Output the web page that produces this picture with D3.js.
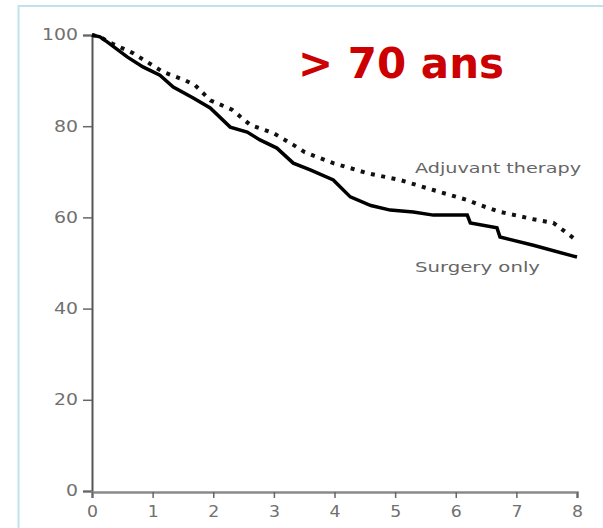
<!DOCTYPE html>
<html>
<head>
<meta charset="utf-8">
<script src="https://cdn.jsdelivr.net/npm/d3@7"></script>
<style>
  html, body { margin: 0; padding: 0; background: #fff; }
  svg { display: block; }
</style>
</head>
<body>
<svg id="chart" width="603" height="528"></svg>
<script>
// ---- data ----
const title = "> 70 ans";
const xTicks = [0, 1, 2, 3, 4, 5, 6, 7, 8];
const yTicks = [0, 20, 40, 60, 80, 100];

const surgeryLabel = "Surgery only";
const surgeryYears = [0, 0.13, 0.25, 0.58, 0.84, 1.12, 1.34, 1.67, 1.95, 2.28, 2.56, 2.77, 3.05, 3.32, 3.60, 3.98, 4.26, 4.60, 4.92, 5.30, 5.63, 6.19, 6.24, 6.68, 6.73, 7.28, 7.94, 8.0];
const surgeryValues = [100, 99.6, 98.5, 95.2, 93.0, 91.2, 88.6, 86.2, 84.0, 79.8, 78.7, 77.0, 75.2, 71.9, 70.4, 68.2, 64.5, 62.6, 61.6, 61.2, 60.5, 60.5, 58.8, 57.7, 55.7, 53.9, 51.5, 51.3];

const adjuvantLabel = "Adjuvant therapy";
const adjuvantYears = [0, 0.13, 0.30, 0.68, 1.17, 1.53, 1.70, 1.95, 2.31, 2.61, 2.99, 3.32, 3.51, 3.98, 4.54, 5.08, 5.63, 6.19, 6.40, 6.73, 7.28, 7.61, 7.94, 8.0];
const adjuvantValues = [100, 99.6, 98.3, 96.0, 91.9, 90.1, 89.0, 85.7, 83.6, 80.3, 78.5, 75.9, 74.3, 71.9, 69.7, 68.2, 66.0, 63.8, 62.7, 61.2, 59.6, 58.8, 55.5, 55.0];

// ---- layout ----
const svg = d3.select("#chart");
const x = d3.scaleLinear().domain([0, 8]).range([92, 577]);
const y = d3.scaleLinear().domain([0, 100]).range([491, 35]);

// frame border
svg.append("rect")
  .attr("x", 18.5).attr("y", 6)
  .attr("width", 620).attr("height", 560)
  .attr("fill", "none")
  .attr("stroke", "#bfe3e8")
  .attr("stroke-width", 2);

// y axis
const yAxis = svg.append("g")
  .attr("transform", "translate(92,0)")
  .call(d3.axisLeft(y).tickValues(yTicks).tickSize(9).tickPadding(5));
yAxis.select(".domain").attr("stroke", "#555").attr("stroke-width", 2);
yAxis.selectAll(".tick line").attr("stroke", "#666").attr("stroke-width", 1.5);
yAxis.selectAll(".tick text")
  .attr("fill", "#707070")
  .attr("font-family", "DejaVu Sans, sans-serif")
  .attr("font-size", 15)
  .attr("textLength", d => String(d).length * 12)
  .attr("lengthAdjust", "spacingAndGlyphs");

// x axis
const xAxis = svg.append("g")
  .attr("transform", "translate(0,492)")
  .call(d3.axisBottom(x).tickValues(xTicks).tickSize(6).tickPadding(8));
xAxis.select(".domain").attr("stroke", "#8a8a8a").attr("stroke-width", 2.5);
xAxis.selectAll(".tick line").attr("stroke", "#666").attr("stroke-width", 1.5);
xAxis.selectAll(".tick text")
  .attr("fill", "#707070")
  .attr("font-family", "DejaVu Sans, sans-serif")
  .attr("font-size", 15)
  .attr("textLength", 11)
  .attr("lengthAdjust", "spacingAndGlyphs");

// lines
const line = d3.line().x(d => x(d[0])).y(d => y(d[1]));
const surgery = d3.zip(surgeryYears, surgeryValues);
const adjuvant = d3.zip(adjuvantYears, adjuvantValues);

svg.append("path")
  .datum(adjuvant)
  .attr("d", line)
  .attr("fill", "none")
  .attr("stroke", "#111")
  .attr("stroke-width", 4)
  .attr("stroke-dasharray", "4,6.5");

svg.append("path")
  .datum(surgery)
  .attr("d", line)
  .attr("fill", "none")
  .attr("stroke", "#000")
  .attr("stroke-width", 3.5)
  .attr("stroke-linejoin", "miter");

// series labels
svg.append("text")
  .attr("x", 415).attr("y", 173)
  .attr("fill", "#666")
  .attr("font-family", "DejaVu Sans, sans-serif")
  .attr("font-size", 14)
  .attr("textLength", 166)
  .attr("lengthAdjust", "spacingAndGlyphs")
  .text(adjuvantLabel);

svg.append("text")
  .attr("x", 415).attr("y", 272)
  .attr("fill", "#666")
  .attr("font-family", "DejaVu Sans, sans-serif")
  .attr("font-size", 14)
  .attr("textLength", 125)
  .attr("lengthAdjust", "spacingAndGlyphs")
  .text(surgeryLabel);

// title
svg.append("text")
  .attr("x", 298).attr("y", 78)
  .attr("fill", "#cc0000")
  .attr("font-family", "DejaVu Sans, sans-serif")
  .attr("font-weight", "bold")
  .attr("font-size", 42)
  .attr("textLength", 206)
  .attr("lengthAdjust", "spacingAndGlyphs")
  .text(title);
</script>
</body>
</html>
